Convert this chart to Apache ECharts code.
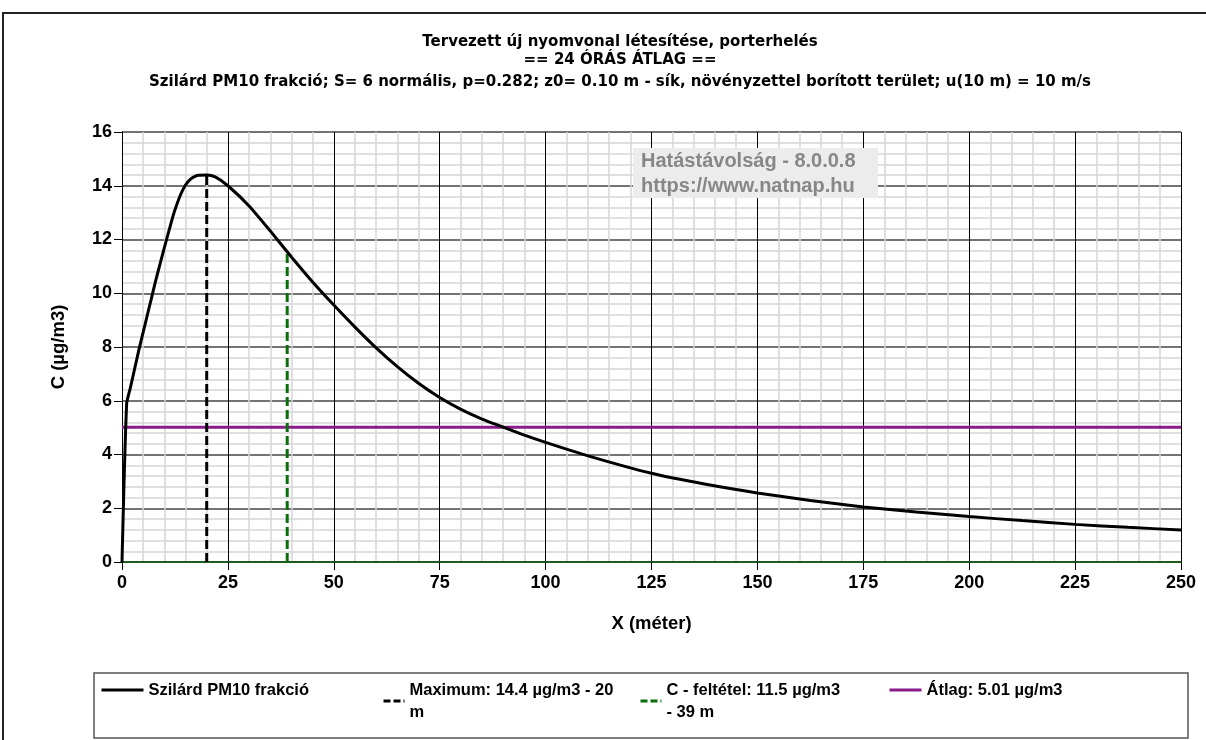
<!DOCTYPE html>
<html>
<head>
<meta charset="utf-8">
<script src="https://cdn.jsdelivr.net/npm/echarts@6/dist/echarts.min.js"></script>
<style>
  html, body { margin: 0; padding: 0; background: #fff; }
  #chart-container { width: 1206px; height: 740px; }
</style>
</head>
<body>
<div id="chart-container"></div>
<script>
// distance from source (m) and concentration (µg/m3)
const distance = [
  0, 1.1, 2, 3, 4, 5, 6, 7, 8, 9, 10, 12, 13, 14, 15, 16, 17, 18, 20, 22, 25,
  30, 35, 40, 45, 50, 55, 60, 65, 70, 75, 80, 85, 90, 95, 100, 110, 125, 137.5,
  150, 162.5, 175, 187.5, 200, 212.5, 225, 237.5, 250,
];
const concentration = [
  0, 5.9, 6.5, 7.2, 7.9, 8.55, 9.2, 9.85, 10.5, 11.1, 11.7, 12.85, 13.33,
  13.73, 14.03, 14.22, 14.33, 14.39, 14.4, 14.33, 14.0, 13.25, 12.32, 11.35,
  10.42, 9.56, 8.74, 7.97, 7.27, 6.65, 6.12, 5.68, 5.32, 5.02, 4.72, 4.45, 3.95,
  3.3, 2.9, 2.57, 2.29, 2.05, 1.86, 1.69, 1.54, 1.4, 1.29, 1.19,
];
const maximumPoint = [20, 14.4];
const limitPoint = [39, 11.5];
const average = 5.01;
const xRange = [0, 250];

const titleLines = [
  "Tervezett új nyomvonal létesítése, porterhelés",
  "== 24 ÓRÁS ÁTLAG ==",
  "Szilárd PM10 frakció; S= 6 normális, p=0.282; z0= 0.10 m - sík, növényzettel borított terület; u(10 m) = 10 m/s",
];
const seriesNames = [
  "Szilárd PM10 frakció",
  "Maximum: 14.4 µg/m3 - 20 m",
  "C - feltétel: 11.5 µg/m3 - 39 m",
  "Átlag: 5.01 µg/m3",
];
const legendLabels = [
  "Szilárd PM10 frakció",
  "Maximum: 14.4 µg/m3 - 20\nm",
  "C - feltétel: 11.5 µg/m3\n- 39 m",
  "Átlag: 5.01 µg/m3",
];

const FONT = "'Liberation Sans', Arial, sans-serif";
const WIDE_FONT = "'DejaVu Sans', Verdana, sans-serif";

const dom = document.getElementById("chart-container");
const myChart = echarts.init(dom, null, { renderer: "canvas" });

const legendPos = [
  { left: 100, top: 679, itemWidth: 42, dash: "solid" },
  { left: 382, top: 679, itemWidth: 21, dash: [7, 3] },
  { left: 639, top: 679, itemWidth: 21, dash: [7, 3] },
  { left: 888, top: 679, itemWidth: 32, dash: "solid" },
];

const option = {
  backgroundColor: "#ffffff",
  animation: false,
  title: titleLines.map((t, i) => ({
    text: t,
    left: 620,
    textAlign: "center",
    top: [35, 53, 75][i],
    padding: 0,
    textStyle: { fontFamily: WIDE_FONT, fontSize: 15, fontWeight: "bold", color: "#000" },
  })),
  legend: seriesNames.map((name, i) => ({
    data: [name],
    left: legendPos[i].left,
    top: legendPos[i].top,
    itemWidth: legendPos[i].itemWidth,
    itemHeight: 12,
    itemGap: 0,
    padding: 0,
    selectedMode: false,
    formatter: () => legendLabels[i],
    itemStyle: { opacity: 0 },
    lineStyle: { width: 3, type: legendPos[i].dash },
    textStyle: {
      fontFamily: FONT,
      fontSize: 16.5,
      fontWeight: "bold",
      color: "#000",
      lineHeight: 22,
    },
  })),
  grid: { left: 122, right: 25, top: 132, bottom: 178 },
  xAxis: {
    type: "value",
    min: xRange[0],
    max: xRange[1],
    interval: 25,
    name: "X (méter)",
    nameLocation: "middle",
    nameGap: 52,
    nameTextStyle: { fontFamily: FONT, fontSize: 18.5, fontWeight: "bold", color: "#000" },
    axisLine: { show: true, onZero: false, lineStyle: { color: "#1f5a1f", width: 2 } },
    axisTick: { show: true, length: 8, lineStyle: { color: "#000", width: 1 } },
    axisLabel: { fontFamily: FONT, fontSize: 18, fontWeight: "bold", color: "#000", margin: 12 },
    splitLine: { show: true, lineStyle: { color: "#000", width: 1 } },
    minorTick: { show: false, splitNumber: 5 },
    minorSplitLine: { show: true, lineStyle: { color: "#d6d6d6", width: 1.5 } },
  },
  yAxis: {
    type: "value",
    min: 0,
    max: 16,
    interval: 2,
    name: "C (µg/m3)",
    nameLocation: "middle",
    nameGap: 54,
    nameTextStyle: { fontFamily: FONT, fontSize: 18.5, fontWeight: "bold", color: "#000" },
    axisLine: { show: true, lineStyle: { color: "#000", width: 1 } },
    axisTick: { show: true, length: 8, lineStyle: { color: "#000", width: 1 } },
    axisLabel: { fontFamily: FONT, fontSize: 18, fontWeight: "bold", color: "#000", margin: 10 },
    splitLine: { show: true, lineStyle: { color: "#444", width: 1.5 } },
    minorTick: { show: false, splitNumber: 5 },
    minorSplitLine: { show: true, lineStyle: { color: "#d6d6d6", width: 1.5 } },
  },
  series: [
    {
      name: seriesNames[0],
      type: "line",
      data: distance.map((x, i) => [x, concentration[i]]),
      symbol: "none",
      smooth: 0.2,
      lineStyle: { color: "#000", width: 3 },
      itemStyle: { color: "#000" },
      z: 5,
    },
    {
      name: seriesNames[1],
      type: "line",
      data: [[maximumPoint[0], 0], maximumPoint],
      symbol: "none",
      lineStyle: { color: "#000", width: 3, type: [9, 4] },
      itemStyle: { color: "#000" },
      z: 4,
    },
    {
      name: seriesNames[2],
      type: "line",
      data: [[limitPoint[0], 0], limitPoint],
      symbol: "none",
      lineStyle: { color: "#0a6e0a", width: 3, type: [9, 4] },
      itemStyle: { color: "#0a6e0a" },
      z: 4,
    },
    {
      name: seriesNames[3],
      type: "line",
      data: xRange.map((x) => [x, average]),
      symbol: "none",
      lineStyle: { color: "#8b1a8b", width: 3 },
      itemStyle: { color: "#8b1a8b" },
      z: 3,
    },
  ],
  graphic: [
    {
      type: "rect",
      shape: { x: 3, y: 13, width: 1300, height: 800 },
      style: { fill: null, stroke: "#222", lineWidth: 2 },
      silent: true,
    },
    {
      type: "rect",
      shape: { x: 94, y: 673, width: 1094, height: 65 },
      style: { fill: null, stroke: "#555", lineWidth: 1.5 },
      silent: true,
    },
    {
      type: "rect",
      shape: { x: 633, y: 148, width: 245, height: 50 },
      style: { fill: "#ececec" },
      z: 100,
      silent: true,
    },
    {
      type: "text",
      x: 641,
      y: 149,
      z: 101,
      silent: true,
      style: {
        text: "Hatástávolság - 8.0.0.8\nhttps://www.natnap.hu",
        font: "bold 20px " + FONT,
        lineHeight: 25,
        fill: "#878787",
      },
    },
  ],
};

myChart.setOption(option);
window.addEventListener("resize", myChart.resize);
</script>
</body>
</html>
